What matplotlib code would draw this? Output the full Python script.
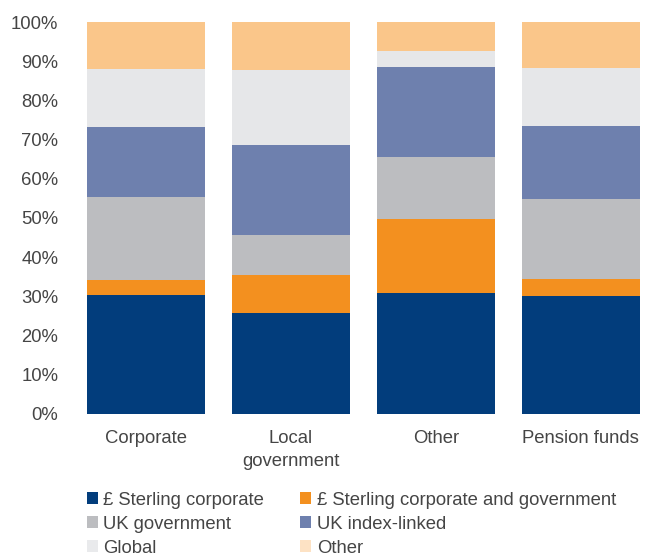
import matplotlib.pyplot as plt
from matplotlib.patches import Patch

categories = ["Corporate", "Local\ngovernment", "Other", "Pension funds"]
series = ["£ Sterling corporate", "£ Sterling corporate and government",
          "UK government", "UK index-linked", "Global", "Other"]

sterling_corp = [30.3, 25.6, 30.8, 30.0]
sterling_corp_gov = [3.8, 9.8, 19.0, 4.4]
uk_gov = [21.2, 10.2, 15.7, 20.4]
uk_index = [17.9, 23.0, 23.0, 18.6]
global_ = [14.8, 19.1, 4.1, 14.9]
other = [12.0, 12.3, 7.4, 11.7]

colors = ["#023d7c", "#f3901f", "#bcbdc0", "#6e80ae", "#e6e7e9", "#fac68a"]
legend_colors = ["#023d7c", "#f3901f", "#bcbdc0", "#6e80ae", "#e9eaec", "#fde2c4"]

plt.rcParams['font.family'] = ['Liberation Sans', 'DejaVu Sans']

fig = plt.figure(figsize=(6.48, 5.57), dpi=100)
ax = fig.add_axes([0.1134, 0.2573, 0.874, 0.7032])

x = range(len(categories))
bottom = [0.0] * len(categories)
for vals, c in zip([sterling_corp, sterling_corp_gov, uk_gov, uk_index, global_, other], colors):
    ax.bar(x, vals, width=0.814, bottom=bottom, color=c, linewidth=0)
    bottom = [b + v for b, v in zip(bottom, vals)]

ax.set_xlim(-0.5, 3.407)
ax.set_ylim(0, 100)
ax.set_yticks(range(0, 101, 10))
ax.set_yticklabels([f"{t}%" for t in range(0, 101, 10)])
ax.set_xticks(list(x))
ax.set_xticklabels(categories, va='top', linespacing=1.45)
ax.tick_params(axis='both', length=0, labelsize=13.3, labelcolor='#454545')
ax.tick_params(axis='y', pad=11)
ax.tick_params(axis='x', pad=12)
for s in ax.spines.values():
    s.set_visible(False)

# legend is filled row by row: two entries per row
order = [0, 2, 4, 1, 3, 5]
handles = [Patch(facecolor=legend_colors[i], edgecolor='none') for i in order]
labels = [series[i] for i in order]
fig.legend(handles, labels, ncol=2, loc='upper left', bbox_to_anchor=(0.134, 0.117),
           frameon=False, fontsize=13.3, handlelength=0.6, handleheight=0.6,
           handletextpad=0.3, columnspacing=1.95, labelspacing=0.38,
           borderaxespad=0, borderpad=0, labelcolor='#454545')

fig.savefig("out.png", dpi=100)
